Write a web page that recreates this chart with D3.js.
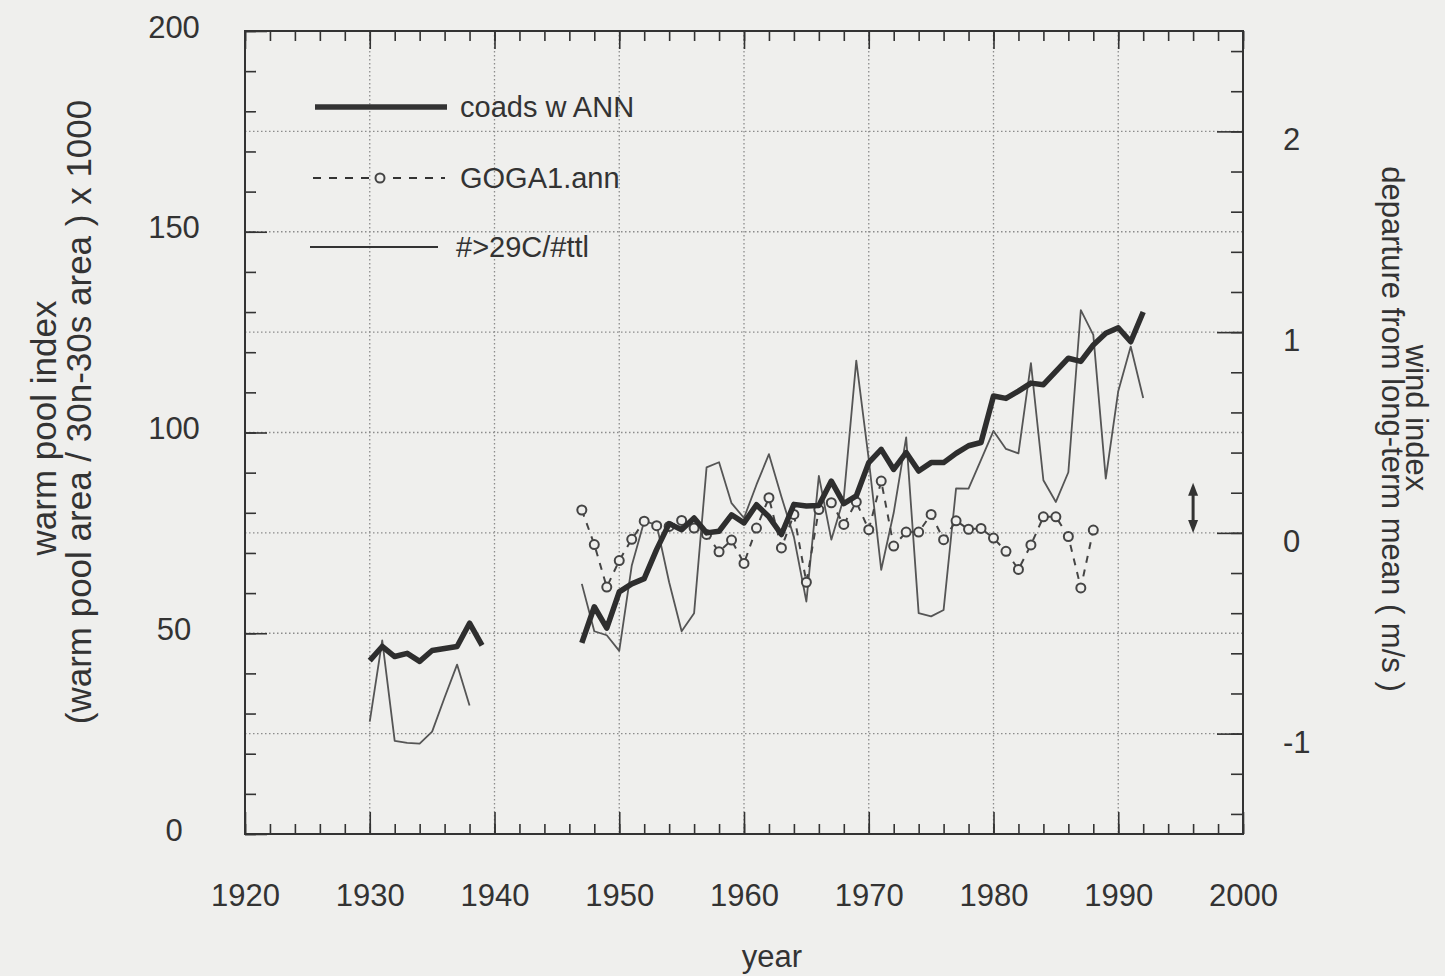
<!DOCTYPE html>
<html>
<head>
<meta charset="utf-8">
<script src="https://cdn.jsdelivr.net/npm/d3@7/dist/d3.min.js"></script>
<style>
  body { margin: 0; background: #efefed; }
  svg { display: block; font-family: "Liberation Sans", Arial, sans-serif; }
</style>
</head>
<body>
<div id="chart"></div>
<script>
// years of the record, null where a series has no value
var years = [1930, 1931, 1932, 1933, 1934, 1935, 1936, 1937, 1938, 1939,
             1940, 1941, 1942, 1943, 1944, 1945, 1946, 1947, 1948, 1949,
             1950, 1951, 1952, 1953, 1954, 1955, 1956, 1957, 1958, 1959,
             1960, 1961, 1962, 1963, 1964, 1965, 1966, 1967, 1968, 1969,
             1970, 1971, 1972, 1973, 1974, 1975, 1976, 1977, 1978, 1979,
             1980, 1981, 1982, 1983, 1984, 1985, 1986, 1987, 1988, 1989,
             1990, 1991, 1992];

// coads w ANN (thick line)
var coads = [43.2, 46.7, 44.2, 45, 43, 45.7, 46.2, 46.7, 52.5, 47,
             null, null, null, null, null, null, null,
             47.6, 56.6, 51.3, 60.3, 62.3, 63.6, 70.9, 77.3, 75.8, 78.7,
             75, 75.4, 79.5, 77.5, 82, 79, 74.6, 82.1, 81.7, 81.8,
             87.9, 82.3, 84.2, 92.5, 95.8, 90.8, 95, 90.4, 92.5, 92.5,
             94.8, 96.7, 97.5, 109.1, 108.5, 110.3, 112.3, 111.9, 115.2, 118.5,
             117.7, 121.8, 124.7, 126.1, 122.6, 130];

// GOGA1.ann (dashed line with circles)
var goga = [null, null, null, null, null, null, null, null, null, null,
            null, null, null, null, null, null, null,
            80.7, 72.1, 61.5, 68.1, 73.4, 77.9, 76.8, 76.6, 78.1, 76.2,
            74.6, 70.3, 73.2, 67.4, 76.2, 83.75, 71.25, 79.6, 62.7, 80.8,
            82.5, 77.1, 82.7, 75.8, 87.9, 71.7, 75.2, 75.2, 79.6, 73.3,
            78, 75.9, 76.1, 73.7, 70.4, 65.9, 72, 79, 79, 74.1,
            61.3, 75.7, null, null, null, null];

// #>29C/#ttl (thin line)
var warm = [28, 48.2, 23.2, 22.7, 22.5, 25.5, 34, 42.2, 32, null,
            null, null, null, null, null, null, null,
            62.3, 50.5, 49.5, 45.6, 66.8, 77.9, 77, 62.7, 50.5, 55,
            91.3, 92.6, 82.4, 78.7, 87, 94.6, 84, 74, 57.9, 89.2,
            73.3, 83.7, 117.9, 93.3, 65.8, 80, 98.8, 55, 54.2, 55.8,
            86.1, 86, 93.2, 100.4, 95.9, 94.8, 117.3, 88.1, 82.7, 90.1,
            130.5, 124.3, 88.5, 110.3, 121.4, 108.6];

// tick labels
var x_ticks = [1920, 1930, 1940, 1950, 1960, 1970, 1980, 1990, 2000];
var left_ticks = [0, 50, 100, 150, 200];
var right_ticks = [-1, 0, 1, 2];
var grid_x = [1930, 1940, 1950, 1960, 1970, 1980, 1990];
var grid_y = [25, 50, 75, 100, 125, 150, 175];

var legend_names = ["coads w ANN", "GOGA1.ann", "#>29C/#ttl"];

var width = 1445;
var height = 976;
var plot = {"left": 245, "right": 1243, "top": 31, "bottom": 834};
var ink = "#333";
var paper = "#efefed";

var svg = d3.select('#chart').append('svg')
    .attr('width', width)
    .attr('height', height)

svg.append('rect')
    .attr('width', width)
    .attr('height', height)
    .attr('fill', paper)

var x = d3.scaleLinear().domain([1920, 2000]).range([plot.left, plot.right]);
var y = d3.scaleLinear().domain([0, 200]).range([plot.bottom, plot.top]);
// wind index axis on the right
var y2 = d3.scaleLinear().domain([-1.5, 2.5]).range([plot.bottom, plot.top]);

//dotted grid
svg.selectAll('.grid_x')
    .data(grid_x)
    .enter()
    .append('line')
    .attr('x1', function(d){return x(d);})
    .attr('x2', function(d){return x(d);})
    .attr('y1', plot.top)
    .attr('y2', plot.bottom)
    .attr('stroke', '#8c8c8c')
    .attr('stroke-width', 1.3)
    .attr('stroke-dasharray', '1.5,2.5')

svg.selectAll('.grid_y')
    .data(grid_y)
    .enter()
    .append('line')
    .attr('x1', plot.left)
    .attr('x2', plot.right)
    .attr('y1', function(d){return y(d);})
    .attr('y2', function(d){return y(d);})
    .attr('stroke', '#8c8c8c')
    .attr('stroke-width', 1.3)
    .attr('stroke-dasharray', '1.5,2.5')

//axes, ticks point inward
function style_axis(g) {
    g.select('.domain').remove();
    g.selectAll('line').attr('stroke', ink).attr('stroke-width', 1.6);
    g.selectAll('text').attr('fill', ink).attr('font-size', 31);
}

svg.append('g')
    .attr('transform', 'translate(0,' + plot.bottom + ')')
    .call(d3.axisBottom(x).tickValues(d3.range(1920, 2001, 2)).tickSize(-10).tickFormat(''))
    .call(style_axis)

svg.append('g')
    .attr('transform', 'translate(0,' + plot.bottom + ')')
    .call(d3.axisBottom(x).tickValues(x_ticks).tickSize(-22).tickPadding(50).tickFormat(function(d){return String(d);}))
    .call(style_axis)

svg.append('g')
    .attr('transform', 'translate(0,' + plot.top + ')')
    .call(d3.axisTop(x).tickValues(d3.range(1920, 2001, 2)).tickSize(-10).tickFormat(''))
    .call(style_axis)

svg.append('g')
    .attr('transform', 'translate(0,' + plot.top + ')')
    .call(d3.axisTop(x).tickValues(x_ticks).tickSize(-18).tickFormat(''))
    .call(style_axis)

svg.append('g')
    .attr('transform', 'translate(' + plot.left + ',0)')
    .call(d3.axisLeft(y).tickValues(d3.range(0, 201, 10)).tickSize(-11).tickFormat(''))
    .call(style_axis)

var left_axis = svg.append('g')
    .attr('transform', 'translate(' + plot.left + ',0)')
    .call(d3.axisLeft(y).tickValues(left_ticks).tickSize(-22).tickFormat(function(d){return String(d);}))
    .call(style_axis)

left_axis.selectAll('text')
    .attr('text-anchor', 'middle')
    .attr('x', -71)
    .attr('dy', '0.2em')

svg.append('g')
    .attr('transform', 'translate(' + plot.right + ',0)')
    .call(d3.axisRight(y2).tickValues(d3.range(-1.4, 2.5, 0.2)).tickSize(-12).tickFormat(''))
    .call(style_axis)

// plain hyphen for the minus sign, as in the original
var right_axis = svg.append('g')
    .attr('transform', 'translate(' + plot.right + ',0)')
    .call(d3.axisRight(y2).tickValues(right_ticks).tickSize(-26).tickFormat(function(d){return String(d);}))
    .call(style_axis)

right_axis.selectAll('text')
    .attr('x', 40)
    .attr('dy', '0.6em')

//frame
svg.append('rect')
    .attr('x', plot.left)
    .attr('y', plot.top)
    .attr('width', plot.right - plot.left)
    .attr('height', plot.bottom - plot.top)
    .attr('fill', 'none')
    .attr('stroke', ink)
    .attr('stroke-width', 2)

//series
function make_rows(values) {
    return years.map(function(d, i){return {'year': d, 'v': values[i]};});
}

var line = d3.line()
    .defined(function(d){return d.v != null;})
    .x(function(d){return x(d.year);})
    .y(function(d){return y(d.v);})

svg.append('path')
    .attr('d', line(make_rows(warm)))
    .attr('fill', 'none')
    .attr('stroke', '#555')
    .attr('stroke-width', 1.8)
    .attr('stroke-linejoin', 'round')

svg.append('path')
    .attr('d', line(make_rows(goga)))
    .attr('fill', 'none')
    .attr('stroke', '#444')
    .attr('stroke-width', 2)
    .attr('stroke-dasharray', '7,7')

svg.selectAll('.goga_dot')
    .data(make_rows(goga).filter(function(d){return d.v != null;}))
    .enter()
    .append('circle')
    .attr('cx', function(d){return x(d.year);})
    .attr('cy', function(d){return y(d.v);})
    .attr('r', 4.5)
    .attr('fill', paper)
    .attr('stroke', '#444')
    .attr('stroke-width', 2)

svg.append('path')
    .attr('d', line(make_rows(coads)))
    .attr('fill', 'none')
    .attr('stroke', '#2e2e2e')
    .attr('stroke-width', 5.5)
    .attr('stroke-linejoin', 'round')

//scale arrow on the wind axis, 0 to 0.25 m/s
var ax = x(1996);
var a_top = y2(0.25);
var a_bot = y2(0);

svg.append('line')
    .attr('x1', ax)
    .attr('x2', ax)
    .attr('y1', a_top + 8)
    .attr('y2', a_bot - 8)
    .attr('stroke', ink)
    .attr('stroke-width', 3)

svg.append('path')
    .attr('d', 'M' + ax + ',' + a_top + ' L' + (ax - 5) + ',' + (a_top + 13) + ' L' + (ax + 5) + ',' + (a_top + 13) + ' Z')
    .attr('fill', ink)

svg.append('path')
    .attr('d', 'M' + ax + ',' + a_bot + ' L' + (ax - 5) + ',' + (a_bot - 13) + ' L' + (ax + 5) + ',' + (a_bot - 13) + ' Z')
    .attr('fill', ink)

//legend
var legend = [{'x1': 315, 'x2': 447, 'y': 107, 'tx': 460, 'w': 5.5, 'dash': null},
              {'x1': 313, 'x2': 445, 'y': 178, 'tx': 460, 'w': 2, 'dash': '8,8'},
              {'x1': 310, 'x2': 438, 'y': 247, 'tx': 456, 'w': 1.8, 'dash': null}];

svg.selectAll('.legend_line')
    .data(legend)
    .enter()
    .append('line')
    .attr('x1', function(d){return d.x1;})
    .attr('x2', function(d){return d.x2;})
    .attr('y1', function(d){return d.y;})
    .attr('y2', function(d){return d.y;})
    .attr('stroke', ink)
    .attr('stroke-width', function(d){return d.w;})
    .attr('stroke-dasharray', function(d){return d.dash;})

svg.append('circle')
    .attr('cx', 380)
    .attr('cy', 178)
    .attr('r', 4.5)
    .attr('fill', paper)
    .attr('stroke', '#444')
    .attr('stroke-width', 2)

svg.selectAll('.legend_text')
    .data(legend)
    .enter()
    .append('text')
    .attr('x', function(d){return d.tx;})
    .attr('y', function(d){return d.y + 10;})
    .text(function(d, i){return legend_names[i];})
    .attr('font-size', 29)
    .attr('fill', ink)

//axis titles
svg.append('text')
    .attr('transform', 'translate(56,428) rotate(-90)')
    .attr('text-anchor', 'middle')
    .attr('font-size', 35)
    .attr('fill', ink)
    .text('warm pool index')

svg.append('text')
    .attr('transform', 'translate(91,412) rotate(-90)')
    .attr('text-anchor', 'middle')
    .attr('font-size', 35)
    .attr('fill', ink)
    .text('(warm pool area / 30n-30s area ) x 1000')

svg.append('text')
    .attr('transform', 'translate(1406,418) rotate(90)')
    .attr('text-anchor', 'middle')
    .attr('font-size', 31)
    .attr('fill', ink)
    .text('wind index')

svg.append('text')
    .attr('transform', 'translate(1382,429) rotate(90)')
    .attr('text-anchor', 'middle')
    .attr('font-size', 31)
    .attr('fill', ink)
    .text('departure from long-term mean ( m/s )')

svg.append('text')
    .attr('x', 772)
    .attr('y', 967)
    .attr('text-anchor', 'middle')
    .attr('font-size', 31)
    .attr('fill', ink)
    .text('year')
</script>
</body>
</html>
